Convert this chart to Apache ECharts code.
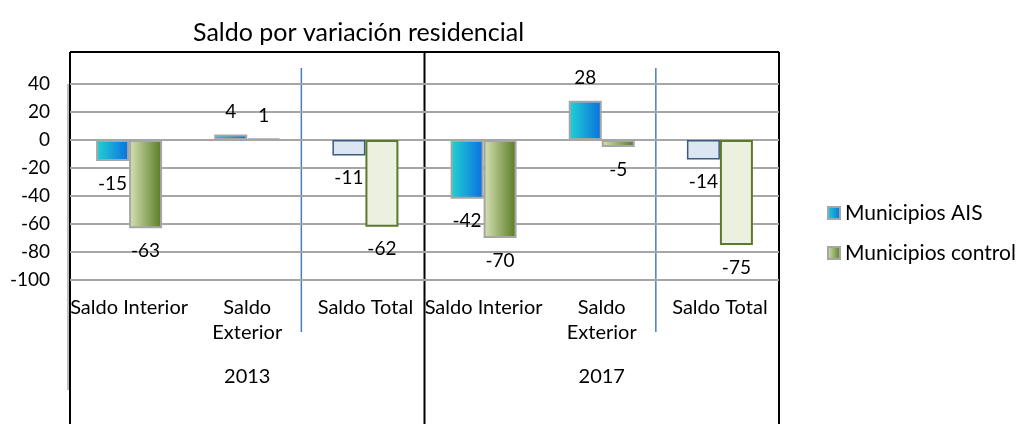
<!DOCTYPE html>
<html>
<head>
<meta charset="utf-8">
<script src="https://cdn.jsdelivr.net/npm/echarts@6/dist/echarts.min.js"></script>
<style>
  html, body { margin: 0; padding: 0; background: #ffffff; }
  #chart { width: 1026px; height: 424px; }
</style>
</head>
<body>
<div id="chart"></div>
<script>
// Residential balance by category and year
const categories = ['Saldo Interior', 'Saldo\nExterior', 'Saldo Total', 'Saldo Interior', 'Saldo\nExterior', 'Saldo Total'];
const years = ['2013', '2017'];
const seriesNames = ['Municipios AIS', 'Municipios control'];
const aisValues = [-15, 4, -11, -42, 28, -14];
const controlValues = [-63, 1, -62, -70, -5, -75];
const yTicks = { min: -100, max: 40, interval: 20 };

const FONT = 'Lato, "Open Sans", sans-serif';

// Plot area
const GRID = { left: 70, right: 247, top: 84, bottom: 144 };
const W = 1026, H = 424;
const plotL = GRID.left, plotR = W - GRID.right, plotT = GRID.top, plotB = H - GRID.bottom;
const catW = (plotR - plotL) / categories.length;

function grad(c0, c1) {
  return new echarts.graphic.LinearGradient(0, 0, 1, 0, [
    { offset: 0, color: c0 }, { offset: 1, color: c1 }
  ]);
}

const styles = {
  ais: { color: grad('#20d4d2', '#0a6ee0'), borderColor: '#a6a6a6', borderWidth: 2 },
  control: { color: grad('#d8e3b6', '#587a22'), borderColor: '#a6a6a6', borderWidth: 2 },
  aisTotal: { color: '#dce6f2', borderColor: '#3b5a80', borderWidth: 1.5 },
  controlTotal: { color: '#ebf1de', borderColor: '#5b7a2c', borderWidth: 2 }
};

function buildData(values, base, total) {
  return values.map((v, i) => ({
    value: v,
    itemStyle: categories[i] === 'Saldo Total' ? total : base,
    label: { position: v < 0 ? 'bottom' : 'top' }
  }));
}

const labelStyle = { show: true, distance: 13, fontFamily: FONT, fontSize: 19, color: '#000' };

// Frame lines and group separators
const graphics = [];
const frame = { color: '#000', width: 2 };
graphics.push({ type: 'line', shape: { x1: plotL, y1: 52, x2: plotR, y2: 52 }, style: { stroke: frame.color, lineWidth: frame.width } });
[plotL, plotL + catW * 3, plotR].forEach(x => {
  graphics.push({ type: 'line', shape: { x1: x, y1: 52, x2: x, y2: H }, style: { stroke: frame.color, lineWidth: frame.width } });
});
graphics.push({ type: 'line', shape: { x1: plotL - 2, y1: plotT, x2: plotL - 2, y2: 390 }, style: { stroke: '#a6a6a6', lineWidth: 1.5 } });
[2, 5].forEach(k => {
  const x = plotL + catW * k - 5;
  graphics.push({ type: 'line', shape: { x1: x, y1: 68, x2: x, y2: 332 }, style: { stroke: '#4a7ebb', lineWidth: 1.5 } });
});

const chart = echarts.init(document.getElementById('chart'), null, { renderer: 'canvas' });
chart.setOption({
  animation: false,
  backgroundColor: '#ffffff',
  textStyle: { fontFamily: FONT },
  title: {
    text: 'Saldo por variación residencial',
    left: 188, top: 15,
    textStyle: { fontFamily: FONT, fontSize: 25, fontWeight: 'normal', color: '#000' }
  },
  legend: {
    orient: 'vertical',
    left: 822, top: 197,
    itemGap: 18,
    itemWidth: 12, itemHeight: 12,
    icon: 'rect',
    textStyle: { fontFamily: FONT, fontSize: 21, color: '#000', lineHeight: 22 },
    data: seriesNames
  },
  grid: GRID,
  xAxis: [
    {
      type: 'category',
      data: categories,
      axisLine: { show: false },
      axisTick: { show: false },
      axisLabel: { interval: 0, margin: 15, fontFamily: FONT, fontSize: 20, lineHeight: 25, color: '#000' }
    },
    {
      type: 'category',
      data: years,
      position: 'bottom',
      axisLine: { show: false },
      axisTick: { show: false },
      axisLabel: { interval: 0, margin: 87, fontFamily: FONT, fontSize: 20, color: '#000' }
    }
  ],
  yAxis: {
    type: 'value',
    min: yTicks.min, max: yTicks.max, interval: yTicks.interval,
    axisLine: { show: false },
    axisTick: { show: false },
    axisLabel: { margin: 20, fontFamily: FONT, fontSize: 19, color: '#000' },
    splitLine: { lineStyle: { color: '#a6a6a6', width: 2 } }
  },
  series: [
    {
      name: seriesNames[0], type: 'bar', xAxisIndex: 0,
      barWidth: 33, barGap: '0%',
      itemStyle: styles.ais,
      label: labelStyle,
      data: buildData(aisValues, styles.ais, styles.aisTotal)
    },
    {
      name: seriesNames[1], type: 'bar', xAxisIndex: 0,
      barWidth: 33, barGap: '0%',
      itemStyle: styles.control,
      label: labelStyle,
      data: buildData(controlValues, styles.control, styles.controlTotal)
    }
  ],
  graphic: graphics
});
</script>
</body>
</html>
